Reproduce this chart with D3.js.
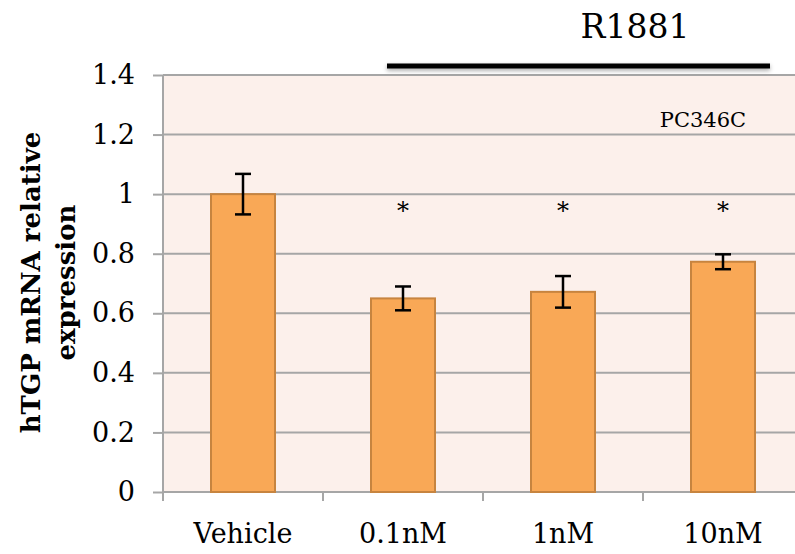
<!DOCTYPE html>
<html>
  <head>
    <meta charset="utf-8" />
    <script src="https://d3js.org/d3.v7.min.js"></script>
    <style>
      body { margin: 0; background: #fff; }
      svg { display: block; overflow: hidden; }
      text { font-family: "DejaVu Serif", serif; fill: #000; }
    </style>
  </head>
  <body>
    <div id="chart"></div>
    <script>
      // data
      const categories = ["Vehicle", "0.1nM", "1nM", "10nM"];
      const values = [1.0, 0.65, 0.672, 0.773];
      const errors = [0.068, 0.04, 0.053, 0.025];
      const stars = ["", "*", "*", "*"];
      const yTicks = [0, 0.2, 0.4, 0.6, 0.8, 1, 1.2, 1.4];

      const W = 795, H = 554;
      const margin = { top: 75, left: 163 };
      const width = 640, height = 417;

      const svg = d3.select("#chart").append("svg").attr("width", W).attr("height", H);

      const defs = svg.append("defs");
      const f = defs.append("filter").attr("id", "shadow").attr("filterUnits", "userSpaceOnUse")
        .attr("x", 0).attr("y", -30).attr("width", W).attr("height", 60);
      f.append("feDropShadow").attr("dx", 0).attr("dy", 2).attr("stdDeviation", 2).attr("flood-color", "#000").attr("flood-opacity", 0.35);

      const g = svg.append("g").attr("transform", `translate(${margin.left},${margin.top})`);

      const x = d3.scaleBand().domain(categories).range([0, width]).paddingInner(0.6).paddingOuter(0.3);
      const y = d3.scaleLinear().domain([0, 1.4]).range([height, 0]);

      // plot background
      g.append("rect").attr("width", width).attr("height", height).attr("fill", "#fcf0eb");

      // gridlines
      g.selectAll(".grid").data(yTicks).enter().append("line")
        .attr("x1", 0).attr("x2", width)
        .attr("y1", (d) => y(d)).attr("y2", (d) => y(d))
        .attr("stroke", "#a6a6a6").attr("stroke-width", 2);

      // y axis
      const yAxis = g.append("g").call(d3.axisLeft(y).tickValues(yTicks).tickSize(10).tickPadding(18).tickFormat((d) => d3.format("")(d)));
      yAxis.select(".domain").attr("stroke", "#a6a6a6").attr("stroke-width", 2).attr("d", `M0,0V${height + 9}`);
      yAxis.selectAll(".tick line").attr("stroke", "#a6a6a6").attr("stroke-width", 2);
      yAxis.selectAll("text").attr("font-size", 27).attr("font-family", "DejaVu Serif");

      // x axis
      const step = x.step();
      const xa = g.append("g").attr("transform", `translate(0,${height})`);
      xa.append("line").attr("x1", 0).attr("x2", width).attr("stroke", "#a6a6a6").attr("stroke-width", 2);
      xa.selectAll(".xt").data(d3.range(categories.length + 1)).enter().append("line")
        .attr("x1", (i) => i * step).attr("x2", (i) => i * step)
        .attr("y1", 0).attr("y2", 9).attr("stroke", "#a6a6a6").attr("stroke-width", 2);
      xa.selectAll(".xl").data(categories).enter().append("text")
        .attr("x", (d) => x(d) + x.bandwidth() / 2).attr("y", 51)
        .attr("text-anchor", "middle").attr("font-size", 27).text((d) => d);

      // bars
      const rows = categories.map((c, i) => ({ c, v: values[i], e: errors[i], s: stars[i] }));
      g.selectAll(".bar").data(rows).enter().append("rect")
        .attr("x", (d) => x(d.c)).attr("width", x.bandwidth())
        .attr("y", (d) => y(d.v)).attr("height", (d) => y(0) - y(d.v))
        .attr("fill", "#f9a856").attr("stroke", "#c7843f").attr("stroke-width", 2);

      // error bars
      const eb = g.selectAll(".err").data(rows).enter().append("g")
        .attr("transform", (d) => `translate(${x(d.c) + x.bandwidth() / 2},0)`)
        .attr("stroke", "#000").attr("stroke-width", 2.5);
      eb.append("line").attr("y1", (d) => y(d.v + d.e)).attr("y2", (d) => y(d.v - d.e));
      eb.append("line").attr("x1", -8).attr("x2", 8).attr("y1", (d) => y(d.v + d.e)).attr("y2", (d) => y(d.v + d.e));
      eb.append("line").attr("x1", -8).attr("x2", 8).attr("y1", (d) => y(d.v - d.e)).attr("y2", (d) => y(d.v - d.e));

      // significance stars
      g.selectAll(".star").data(rows.filter((d) => d.s)).enter().append("text")
        .attr("x", (d) => x(d.c) + x.bandwidth() / 2).attr("y", y(0.915))
        .attr("text-anchor", "middle").attr("font-size", 24).text((d) => d.s);

      // cell line label
      g.append("text").attr("x", x("10nM") + x.bandwidth() / 2 - 20).attr("y", y(1.225))
        .attr("text-anchor", "middle").attr("font-size", 21).text("PC346C");

      // R1881 bracket
      const bx1 = x("0.1nM") + x.bandwidth() / 2 - 16;
      const bx2 = x("10nM") + x.bandwidth() / 2 + 47;
      g.append("rect").attr("x", bx1).attr("y", -11.5).attr("width", bx2 - bx1).attr("height", 5)
        .attr("fill", "#000").attr("filter", "url(#shadow)");
      g.append("text").attr("x", x("1nM") + x.bandwidth() / 2 + 72).attr("y", -37)
        .attr("text-anchor", "middle").attr("font-size", 33).text("R1881");

      // y title
      const yt = svg.append("text").attr("transform", `translate(0,282.5) rotate(-90)`)
        .attr("text-anchor", "middle").attr("font-weight", "bold").attr("font-size", 26);
      yt.append("tspan").attr("x", 0).attr("y", 40).text("hTGP mRNA relative");
      yt.append("tspan").attr("x", 0).attr("y", 75).text("expression");
    </script>
  </body>
</html>
